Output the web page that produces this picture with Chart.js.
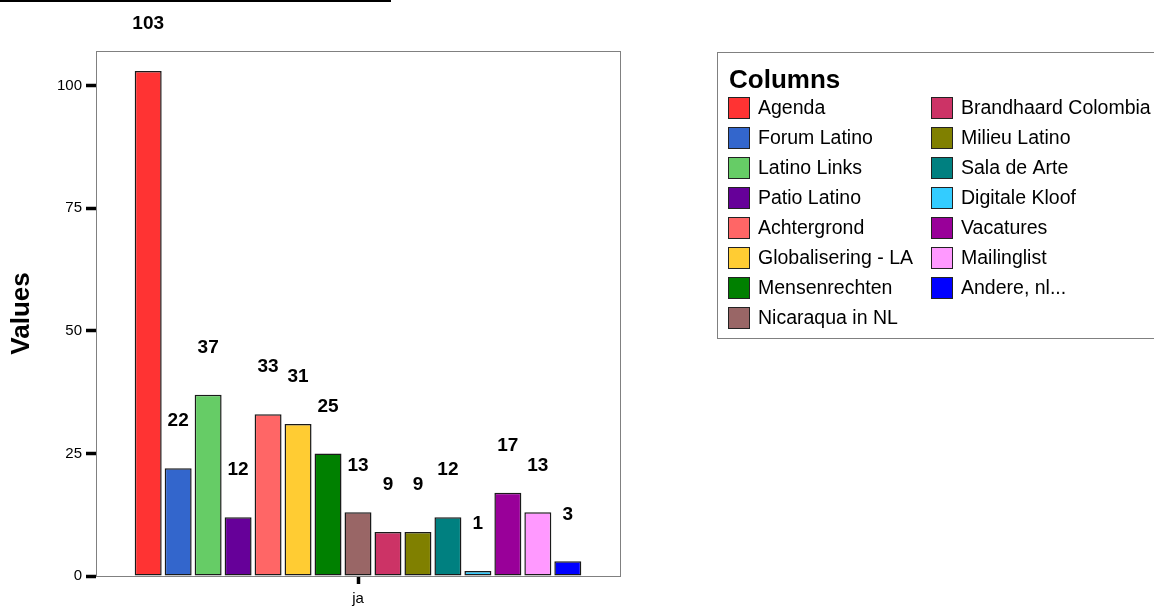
<!DOCTYPE html>
<html>
<head>
<meta charset="utf-8">
<script src="https://cdn.jsdelivr.net/npm/chart.js@4"></script>
<style>
  html, body { margin: 0; padding: 0; background: #fff; }
  #wrap { width: 1154px; height: 606px; }
</style>
</head>
<body>
<div id="wrap"><canvas id="c" width="1154" height="606"></canvas></div>
<script>
// Category on the x axis
const categories = ['ja'];

// One series per column
const seriesNames = [
  'Agenda', 'Forum Latino', 'Latino Links', 'Patio Latino', 'Achtergrond',
  'Globalisering - LA', 'Mensenrechten', 'Nicaraqua in NL', 'Brandhaard Colombia',
  'Milieu Latino', 'Sala de Arte', 'Digitale Kloof', 'Vacatures', 'Mailinglist', 'Andere, nl...'
];
const seriesValues = [103, 22, 37, 12, 33, 31, 25, 13, 9, 9, 12, 1, 17, 13, 3];
const seriesColors = [
  '#FF3333', '#3366CC', '#66CC66', '#660099', '#FF6666',
  '#FFCC33', '#008000', '#996666', '#CC3366',
  '#808000', '#008080', '#33CCFF', '#990099', '#FF99FF', '#0000FF'
];

// Value axis
const yTicks = [0, 25, 50, 75, 100];
const yMax = 107.1;
const yTitle = 'Values';
const legendTitle = 'Columns';

const FONT = "'Liberation Sans', Arial, Helvetica, sans-serif";
Chart.defaults.font.family = FONT;
Chart.defaults.color = '#000';

const datasets = seriesNames.map((name, i) => ({
  label: name,
  data: [seriesValues[i]],
  backgroundColor: seriesColors[i],
  borderColor: '#1a1a1a',
  borderWidth: 1.5,
  borderSkipped: false,
  inflateAmount: 0,
  categoryPercentage: 0.858,
  barPercentage: 0.9
}));

// Frame around the plot area, value labels, legend box and the rule at the top
const decorations = {
  id: 'decorations',
  afterDatasetsDraw(chart) {
    const ctx = chart.ctx;
    const a = chart.chartArea;
    ctx.save();
    // plot frame
    ctx.strokeStyle = '#808080';
    ctx.lineWidth = 1;
    ctx.strokeRect(Math.round(a.left) + 0.5, Math.round(a.top) + 0.5,
                   Math.round(a.right - a.left), Math.round(a.bottom - a.top));
    // value labels above each bar
    ctx.fillStyle = '#000';
    ctx.font = 'bold 19px ' + FONT;
    ctx.textAlign = 'center';
    ctx.textBaseline = 'middle';
    chart.data.datasets.forEach((ds, i) => {
      const meta = chart.getDatasetMeta(i);
      meta.data.forEach((bar, j) => {
        ctx.fillText(String(ds.data[j]), bar.x, bar.y - 47);
      });
    });
    ctx.restore();
  },
  afterDraw(chart) {
    const ctx = chart.ctx;
    ctx.save();
    // rule at the top edge
    ctx.fillStyle = '#000';
    ctx.fillRect(0, 0, 391, 2);

    // legend box
    const bx = 717.5, by = 52.5;
    ctx.strokeStyle = '#808080';
    ctx.lineWidth = 1;
    ctx.strokeRect(bx, by, 520, 286);
    ctx.fillStyle = '#000';
    ctx.font = 'bold 26px ' + FONT;
    ctx.textAlign = 'left';
    ctx.textBaseline = 'alphabetic';
    ctx.fillText(legendTitle, 729, 88);

    ctx.font = '19.5px ' + FONT;
    ctx.textBaseline = 'middle';
    const perCol = 8;
    chart.data.datasets.forEach((ds, i) => {
      const col = Math.floor(i / perCol);
      const row = i % perCol;
      const sx = col === 0 ? 728 : 931;
      const cy = 108 + row * 30;
      ctx.fillStyle = ds.backgroundColor;
      ctx.fillRect(sx, cy - 11, 22, 22);
      ctx.strokeStyle = '#222';
      ctx.strokeRect(sx + 0.5, cy - 10.5, 21, 21);
      ctx.fillStyle = '#000';
      ctx.fillText(ds.label, sx + 30, cy + 1);
    });
    ctx.restore();
  }
};

new Chart(document.getElementById('c'), {
  type: 'bar',
  data: { labels: categories, datasets },
  options: {
    responsive: false,
    animation: false,
    devicePixelRatio: 1,
    layout: { padding: { left: 0, top: 51, right: 534, bottom: 0 } },
    plugins: {
      legend: { display: false },
      tooltip: { enabled: false }
    },
    scales: {
      x: {
        type: 'category',
        afterFit(scale) { scale.height = 30; },
        grid: {
          display: true,
          drawOnChartArea: false,
          offset: false,
          drawTicks: true,
          tickLength: 8,
          tickWidth: 3.5,
          tickColor: '#000'
        },
        border: { display: false },
        ticks: { font: { size: 15 }, color: '#000', padding: 6 }
      },
      y: {
        min: 0,
        max: yMax,
        afterFit(scale) { scale.width = 96; },
        afterBuildTicks(scale) { scale.ticks = yTicks.map(v => ({ value: v })); },
        grid: {
          display: true,
          drawOnChartArea: false,
          drawTicks: true,
          tickLength: 10,
          tickWidth: 3.5,
          tickColor: '#000'
        },
        border: { display: false },
        ticks: { font: { size: 15 }, color: '#000', padding: 4 },
        title: {
          display: true,
          text: yTitle,
          font: { size: 26, weight: 'bold' },
          color: '#000',
          padding: { top: 6, bottom: 0 }
        }
      }
    }
  },
  plugins: [decorations]
});
</script>
</body>
</html>
